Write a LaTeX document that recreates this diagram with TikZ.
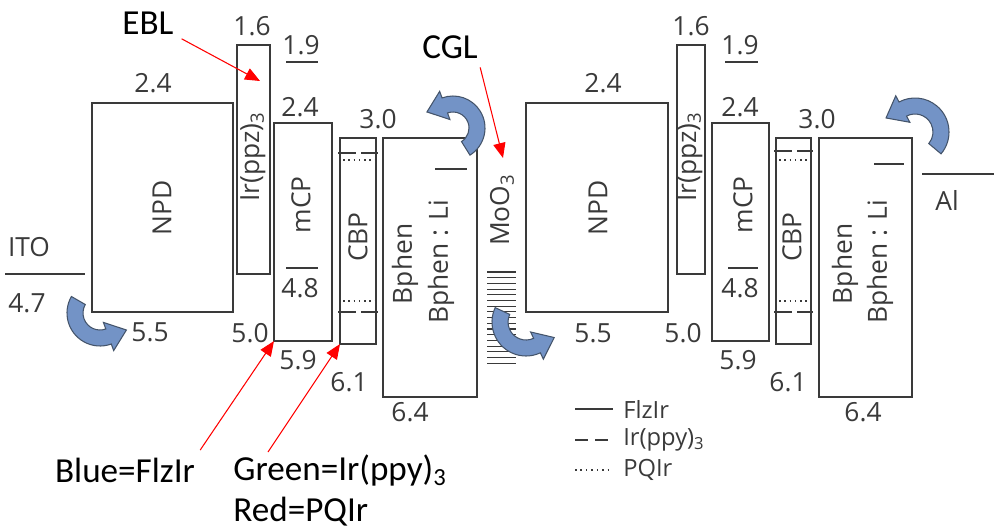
\documentclass[tikz,border=0pt]{standalone}
\usepackage{fontspec}
\setmainfont{Open Sans}
\newfontfamily\notefont{Carlito}
\usetikzlibrary{arrows.meta,calc}
\definecolor{ink}{HTML}{3A3A3A}
\definecolor{swirl}{HTML}{7393C6}
\definecolor{swirledge}{HTML}{44546A}

% curved block arrow: centre, radius, start angle, end angle (counter-clockwise)
\newcommand{\bentarrow}[4]{%
  \filldraw[bent] ($(#1)+(#3:#2+8)$) arc[start angle=#3, end angle=#4, radius=#2+8]
    -- ($(#1)+(#4:#2+15)$) -- ($(#1)+(#4:#2)+(#4+90:19)$)
    -- ($(#1)+(#4:#2-15)$) -- ($(#1)+(#4:#2-8)$)
    arc[start angle=#4, end angle=#3, radius=#2-8] -- cycle;}

\tikzset{
  box/.style={draw=ink, line width=0.9pt},
  lvl/.style={font=\fontsize{15}{17}\selectfont, text=ink, inner sep=0pt},
  layer/.style={lvl, rotate=90},
  note/.style={font=\notefont\fontsize{20}{24}\selectfont, inner sep=0pt},
  key/.style={font=\fontsize{13.5}{16}\selectfont, text=ink, inner sep=0pt, anchor=west},
  redarr/.style={red, line width=0.6pt, -{Triangle[length=8.5pt, width=7pt]}},
  bent/.style={fill=swirl, draw=swirledge, line width=0.6pt},
  dashlvl/.style={ink, line width=0.8pt, dash pattern=on 10.2pt off 2.9pt},
  dotlvl/.style={ink, line width=0.8pt, dash pattern=on 0.9pt off 2.1pt},
}

\begin{document}
\begin{tikzpicture}[x=0.02cm, y=0.02cm]
  \useasboundingbox (0,0) rectangle (994,-531);
  % first unit
  \draw[ink, line width=0.9pt] (5,-274) -- (85,-274);
  \node[lvl] (ito) at (29,-247) {ITO};
  \node[lvl] at (27,-303) {4.7};
  \draw[box] (92,-312) coordinate (npdA) rectangle (233,-103);
  \node[layer] at (162,-208) {NPD};
  \node[lvl] at (153,-83) {2.4};
  \node[lvl] at (150,-332) {5.5};
  \draw[box] (237,-274) coordinate (irA) rectangle (270,-45);
  \node[layer] at (253,-157) {Ir(ppz)\textsubscript{3}};
  \node[lvl] at (252,-26) {1.6};
  \draw[box] (274,-341) coordinate (mcpA) rectangle (332,-123);
  \node[layer] at (301,-205) {mCP};
  \node[lvl] at (301,-45) {1.9};
  \draw[ink, line width=0.9pt] (286,-62) -- (318,-62);
  \node[lvl] at (300,-107) {2.4};
  \draw[ink, line width=0.9pt] (286,-268) -- (318,-268);
  \node[lvl] at (300,-288) {4.8};
  \node[lvl] at (250,-333) {5.0};
  \node[lvl] at (298,-360) {5.9};
  \draw[box] (340,-344) coordinate (cbpA) rectangle (376,-138);
  \node[layer] at (358,-237) {CBP};
  \draw[dashlvl] (338,-153) -- (378,-153);
  \draw[dotlvl] (343,-160) -- (376,-160);
  \draw[dotlvl] (343,-301) -- (376,-301);
  \draw[dashlvl] (338,-312) -- (378,-312);
  \node[lvl] at (378,-119) {3.0};
  \node[lvl] at (349,-382) {6.1};
  \draw[box] (383,-397) coordinate (bphA) rectangle (477,-138);
  \draw[ink, line width=0.9pt] (435,-169) -- (467,-169);
  \node[layer] at (405,-264) {Bphen};
  \node[layer] at (441,-262) {Bphen : Li};
  \node[lvl] at (410,-412) {6.4};
  % charge generation layer
  \node[layer] (moo) at (502,-210) {MoO\textsubscript{3}};
  \foreach \k in {0,...,16}
    \draw[ink, line width=0.6pt] (487,-272-5.7*\k) -- (516,-272-5.7*\k);
  % second unit
  \draw[box] (526,-312) coordinate (npdB) rectangle (668,-103);
  \node[layer] at (598,-208) {NPD};
  \node[lvl] at (603,-83) {2.4};
  \node[lvl] at (593,-333) {5.5};
  \draw[box] (677,-274) coordinate (irB) rectangle (705,-45);
  \node[layer] at (690,-157) {Ir(ppz)\textsubscript{3}};
  \node[lvl] at (691,-26) {1.6};
  \draw[box] (712,-341) coordinate (mcpB) rectangle (769,-123);
  \node[layer] at (743,-205) {mCP};
  \node[lvl] at (740,-45) {1.9};
  \draw[ink, line width=0.9pt] (725,-62) -- (758,-62);
  \node[lvl] at (740,-107) {2.4};
  \draw[ink, line width=0.9pt] (728,-268) -- (758,-268);
  \node[lvl] at (740,-288) {4.8};
  \node[lvl] at (683,-333) {5.0};
  \node[lvl] at (738,-360) {5.9};
  \draw[box] (776,-344) coordinate (cbpB) rectangle (811,-138);
  \node[layer] at (792,-237) {CBP};
  \draw[dashlvl] (774,-151) -- (813,-151);
  \draw[dotlvl] (779,-160) -- (811,-160);
  \draw[dotlvl] (779,-301) -- (811,-301);
  \draw[dashlvl] (774,-312) -- (813,-312);
  \node[lvl] at (817,-119) {3.0};
  \node[lvl] at (788,-382) {6.1};
  \draw[box] (819,-397) coordinate (bphB) rectangle (912,-138);
  \draw[ink, line width=0.9pt] (874,-164) -- (904,-164);
  \node[layer] at (845,-264) {Bphen};
  \node[layer] at (880,-262) {Bphen : Li};
  \node[lvl] at (863,-412) {6.4};
  \draw[ink, line width=0.9pt] (922,-174) -- (994,-174);
  \node[lvl] (al) at (947,-200) {Al};
  % injection arrows
  \bentarrow{100,-313}{25}{150}{290}
  \bentarrow{453,-128}{24}{-58}{110}
  \bentarrow{526,-322}{26}{155}{295}
  \bentarrow{915,-132}{26}{-40}{118}
  % legend
  \draw[ink, line width=0.8pt] (575,-409) -- (613,-409);
  \node[key] at (623,-409) {FlzIr};
  \draw[ink, line width=0.8pt, dash pattern=on 7.5pt off 4pt] (575,-440) -- (613,-440);
  \node[key] at (623,-440) {Ir(ppy)\textsubscript{3}};
  \draw[ink, line width=0.8pt, dash pattern=on 0.9pt off 2.2pt] (575,-470) -- (613,-470);
  \node[key] at (623,-470) {PQIr};
  % annotations
  \node[note] (ebl) at (148,-23) {EBL};
  \node[note] (cgl) at (450,-47) {CGL};
  \node[note] (blue) at (125,-470) {Blue=FlzIr};
  \node[note, anchor=west] (green) at (233,-470) {Green=Ir(ppy)\textsubscript{3}};
  \node[note, anchor=west] (redtxt) at (233,-512) {Red=PQIr};
  \coordinate (ebltip) at (260,-81);
  \coordinate (cgltip) at (503,-158);
  \coordinate (greenfrom) at (268,-452);
  \draw[redarr, shorten <=5pt] (ebl.south east) -- (ebltip);
  \draw[redarr, shorten <=5pt] (cgl.south east) -- (cgltip);
  \draw[redarr, shorten <=5pt] (blue.north east) -- (mcpA);
  \draw[redarr] (greenfrom) -- (cbpA);
\end{tikzpicture}
\end{document}
